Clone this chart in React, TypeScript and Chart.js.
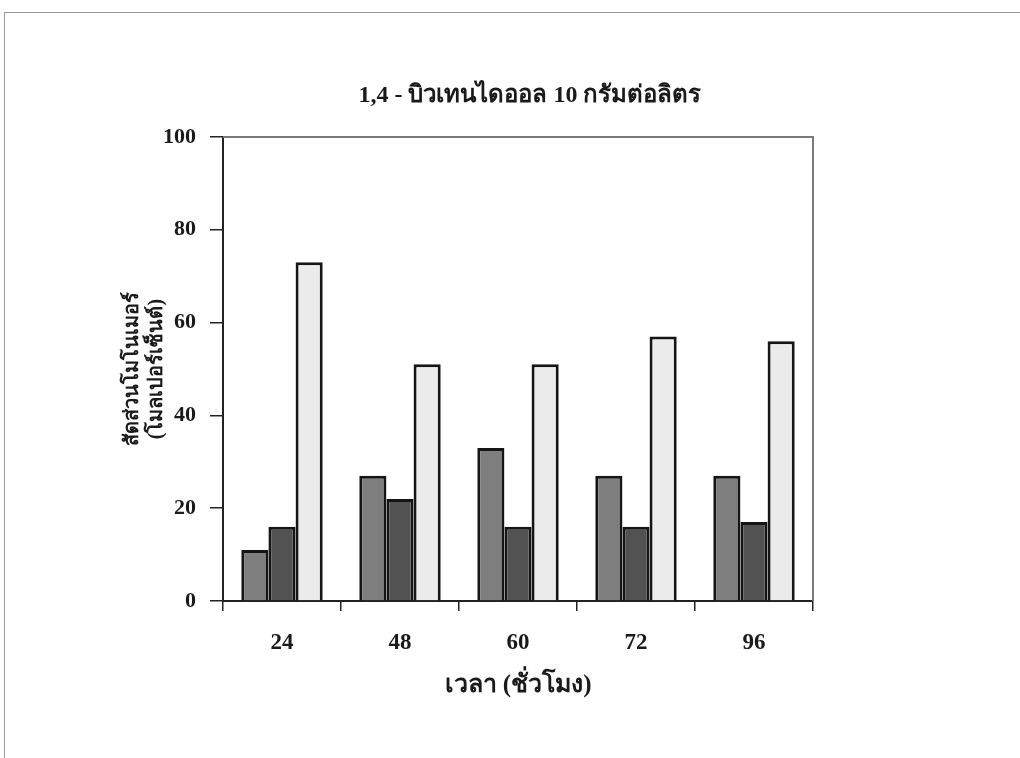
import React, { useEffect, useRef } from "react";
import { Chart, registerables } from "chart.js";

Chart.register(...registerables);

const titleText = "1,4 - บิวเทนไดออล 10 กรัมต่อลิตร";
const xTitle = "เวลา (ชั่วโมง)";
const yTitle = ["สัดส่วนโมโนเมอร์", "(โมลเปอร์เซ็นต์)"];
const categories = ["24", "48", "60", "72", "96"];
const series1 = [11, 27, 33, 27, 27];
const series2 = [16, 22, 16, 16, 17];
const series3 = [73, 51, 51, 57, 56];
const yTicks = [0, 20, 40, 60, 80, 100];

const FONT = "'Liberation Serif', 'Times New Roman', serif";

const frame = {
  id: "frame",
  afterDatasetsDraw(chart: any) {
    const { ctx, chartArea } = chart;
    ctx.save();
    ctx.strokeStyle = "#7a7a7a";
    ctx.lineWidth = 2;
    ctx.beginPath();
    ctx.moveTo(chartArea.left, chartArea.top);
    ctx.lineTo(chartArea.right, chartArea.top);
    ctx.lineTo(chartArea.right, chartArea.bottom);
    ctx.stroke();
    ctx.restore();
  },
};

const chartTitle = {
  id: "chartTitle",
  afterDraw(chart: any) {
    const { ctx } = chart;
    ctx.save();
    ctx.fillStyle = "#1a1a1a";
    ctx.font = `bold 24px ${FONT}`;
    ctx.textAlign = "center";
    ctx.textBaseline = "middle";
    ctx.fillText(titleText, 530, 96);
    ctx.restore();
  },
};

export default function App() {
  const ref = useRef<HTMLCanvasElement>(null);
  useEffect(() => {
    if (!ref.current) return;
    const chart = new Chart(ref.current, {
      type: "bar",
      data: {
        labels: categories,
        datasets: [
          { data: series1, backgroundColor: "#7e7e7e", borderColor: "#151515", borderWidth: 3 },
          { data: series2, backgroundColor: "#525252", borderColor: "#151515", borderWidth: 3 },
          { data: series3, backgroundColor: "#ebebeb", borderColor: "#151515", borderWidth: 3 },
        ],
      },
      plugins: [frame, chartTitle],
      options: {
        animation: false,
        responsive: false,
        devicePixelRatio: 1,
        layout: { padding: { left: 0, right: 207, top: 137, bottom: 0 } },
        datasets: { bar: { categoryPercentage: 0.69, barPercentage: 1 } } as any,
        plugins: {
          legend: { display: false },
          tooltip: { enabled: false },
          title: { display: false },
        },
        scales: {
          x: {
            afterFit: (s: any) => { s.height = 157; },
            grid: { drawOnChartArea: false, drawTicks: true, tickLength: 10, color: "#222", lineWidth: 1.5, offset: true },
            border: { color: "#222", width: 2 },
            ticks: { color: "#1a1a1a", padding: 18, font: { family: FONT, size: 23, weight: "bold" } },
            title: {
              display: true,
              text: xTitle,
              color: "#1a1a1a",
              font: { family: FONT, size: 25, weight: "bold", lineHeight: 1.2 },
              padding: { top: 0, bottom: 57 },
            },
          },
          y: {
            min: 0,
            max: 100,
            afterFit: (s: any) => { s.width = 223; },
            afterBuildTicks: (s: any) => { s.ticks = yTicks.map((v) => ({ value: v })); },
            grid: { drawOnChartArea: false, drawTicks: true, tickLength: 13, color: "#222", lineWidth: 1.5 },
            border: { color: "#222", width: 2 },
            ticks: { color: "#1a1a1a", padding: 14, font: { family: FONT, size: 22, weight: "bold" } },
            title: {
              display: true,
              text: yTitle,
              color: "#1a1a1a",
              font: { family: FONT, size: 20, weight: "bold", lineHeight: 1.2 },
              padding: { top: 121, bottom: 0 },
            },
          },
        },
      },
    });
    return () => chart.destroy();
  }, []);
  return (
    <div style={{ position: "absolute", left: 0, top: 0, width: 1020, height: 758, background: "#fff" }}>
      <div
        style={{
          position: "absolute",
          left: 4,
          top: 12,
          width: 1016,
          height: 746,
          borderLeft: "1px solid #9a9a9a",
          borderTop: "1px solid #9a9a9a",
          boxSizing: "border-box",
        }}
      />
      <canvas ref={ref} width={1020} height={758} style={{ position: "absolute", left: 0, top: 0 }} />
    </div>
  );
}
